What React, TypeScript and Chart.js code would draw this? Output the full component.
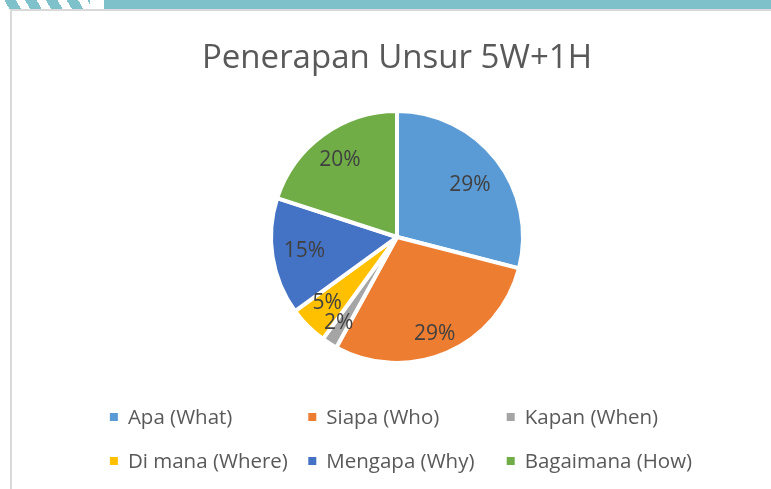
import React, { useEffect, useRef } from "react";
import { Chart, registerables } from "chart.js";

Chart.register(...registerables);

const chartTitle = "Penerapan Unsur 5W+1H";
const categories = [
  "Apa (What)",
  "Siapa (Who)",
  "Kapan (When)",
  "Di mana (Where)",
  "Mengapa (Why)",
  "Bagaimana (How)",
];
const values = [29, 29, 2, 5, 15, 20];
const sliceColors = ["#5B9BD5", "#ED7D31", "#A5A5A5", "#FFC000", "#4472C4", "#70AD47"];

// label placement tweaks (fraction of radius, angle offset in degrees)
const labelRadius = [0.72, 0.81, 0.81, 0.75, 0.74, 0.77];
const labelAngleOffset = [1.3, 1.8, 2.4, 2.6, 1.7, 0];

const FONT = '"Open Sans", "DejaVu Sans", sans-serif';

const overlayPlugin = {
  id: "overlay",
  afterDraw(chart: any) {
    const ctx = chart.ctx as CanvasRenderingContext2D;
    const meta = chart.getDatasetMeta(0);
    const area = chart.chartArea;
    const cx = (area.left + area.right) / 2;
    const data = chart.data.datasets[0].data as number[];
    const total = data.reduce((a, b) => a + b, 0);
    ctx.save();

    // Title
    ctx.fillStyle = "#595959";
    ctx.font = `33px ${FONT}`;
    ctx.textAlign = "center";
    ctx.textBaseline = "alphabetic";
    ctx.fillText(chartTitle, cx, 68);

    // Data labels
    ctx.fillStyle = "#404040";
    ctx.font = `21px ${FONT}`;
    ctx.textBaseline = "middle";
    meta.data.forEach((arc: any, i: number) => {
      const p = arc.getProps(["x", "y", "startAngle", "endAngle", "outerRadius"], true);
      const a = (p.startAngle + p.endAngle) / 2 + (labelAngleOffset[i] * Math.PI) / 180;
      const r = p.outerRadius * labelRadius[i];
      const pct = Math.round((data[i] / total) * 100) + "%";
      ctx.fillText(pct, p.x + r * Math.cos(a), p.y + r * Math.sin(a) + 2);
    });

    // Legend (3 equal columns, Excel style)
    ctx.font = `20.5px ${FONT}`;
    const labels = chart.data.labels as string[];
    const maxW = Math.max(...labels.map((l) => ctx.measureText(l).width));
    const boxSize = 8;
    const boxGap = 18;
    const colGap = 13;
    const colW = boxGap + maxW + colGap;
    const cols = 3;
    const totalW = cols * colW - colGap;
    const startX = cx + 4 - totalW / 2;
    const rowY = [417, 461];
    ctx.textAlign = "left";
    ctx.textBaseline = "middle";
    labels.forEach((l, i) => {
      const col = i % cols;
      const row = Math.floor(i / cols);
      const x = startX + col * colW;
      const y = rowY[row];
      ctx.fillStyle = sliceColors[i];
      ctx.fillRect(x, y - boxSize / 2, boxSize, boxSize);
      ctx.fillStyle = "#595959";
      ctx.fillText(l, x + boxGap, y + 1);
    });
    ctx.restore();
  },
};

export default function App() {
  const canvasRef = useRef<HTMLCanvasElement | null>(null);

  useEffect(() => {
    if (!canvasRef.current) return;
    const chart = new Chart(canvasRef.current, {
      type: "pie",
      data: {
        labels: categories,
        datasets: [
          {
            data: values,
            backgroundColor: sliceColors,
            borderColor: "#FFFFFF",
            borderWidth: 4,
          },
        ],
      },
      options: {
        animation: false,
        responsive: false,
        maintainAspectRatio: false,
        layout: { padding: { left: 269, right: 246, top: 109, bottom: 124 } },
        plugins: {
          legend: { display: false },
          title: { display: false },
          tooltip: { enabled: false },
        },
      },
      plugins: [overlayPlugin],
    });
    return () => chart.destroy();
  }, []);

  return (
    <div
      style={{
        position: "absolute",
        left: 0,
        top: 0,
        width: 771,
        height: 489,
        overflow: "hidden",
        background: "#FFFFFF",
      }}
    >
      <canvas
        ref={canvasRef}
        width={771}
        height={489}
        style={{ position: "absolute", left: 0, top: 0, width: 771, height: 489 }}
      />
      {/* decorative top band */}
      <div
        style={{
          position: "absolute",
          left: 0,
          top: 0,
          width: 771,
          height: 10,
          background:
            "linear-gradient(90deg, rgba(0,0,0,0) 0px, rgba(0,0,0,0) 104px, #7FC1CA 104px, #7FC1CA 771px)",
        }}
      />
      <div
        style={{
          position: "absolute",
          left: -20,
          top: 0,
          width: 110,
          height: 10,
          background:
            "repeating-linear-gradient(60deg, #FFFFFF 0px, #FFFFFF 8px, #7FC1CA 8px, #7FC1CA 18px)",
        }}
      />
      {/* chart frame */}
      <div
        style={{
          position: "absolute",
          left: 10,
          top: 9,
          width: 800,
          height: 500,
          borderLeft: "2px solid #D9D9D9",
          borderTop: "2px solid #D9D9D9",
          pointerEvents: "none",
        }}
      />
    </div>
  );
}
